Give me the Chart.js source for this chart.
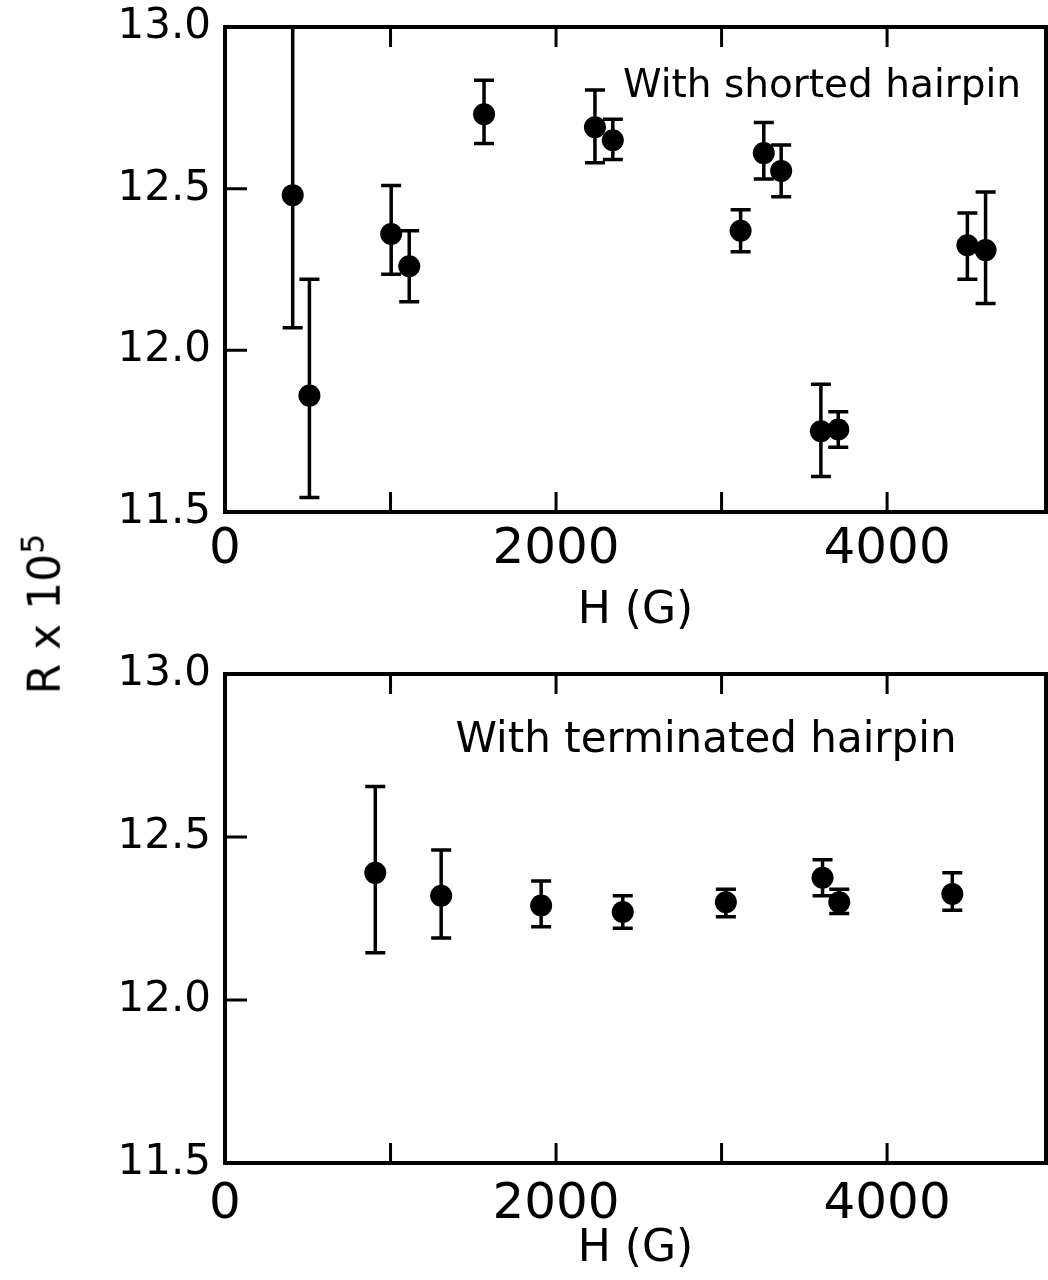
<!DOCTYPE html>
<html>
<head>
<meta charset="utf-8">
<script src="https://cdn.jsdelivr.net/npm/chart.js@4.4.0/dist/chart.umd.min.js"></script>
<style>
  body { margin: 0; background: #fff; }
  #wrap { position: relative; width: 1048px; height: 1280px; background: #fff; }
  canvas { position: absolute; left: 0; }
  #topChart { top: 0; }
  #botChart { top: 640px; }
  #ylab {
    position: absolute; left: 42px; top: 614px;
    transform: translate(-50%, -50%) rotate(-90deg);
    font: 44px "DejaVu Sans", sans-serif; color: #000; white-space: nowrap;
  }
  #ylab sup { font-size: 72%; }
</style>
</head>
<body>
<div id="wrap">
  <canvas id="topChart" width="1048" height="640"></canvas>
  <canvas id="botChart" width="1048" height="640"></canvas>
  <div id="ylab">R x 10<sup>5</sup></div>
</div>
<script>
// shorted hairpin (top panel)
var hTop = [409, 510, 1004, 1113, 1565, 2235, 2343, 3115, 3255, 3360, 3600, 3705, 4485, 4595];
var rTop = [12.48, 11.86, 12.36, 12.26, 12.73, 12.69, 12.65, 12.37, 12.61, 12.555, 11.75, 11.755, 12.325, 12.31];
var rTopHi = [13.0, 12.22, 12.51, 12.37, 12.835, 12.805, 12.715, 12.435, 12.705, 12.635, 11.895, 11.81, 12.425, 12.49];
var rTopLo = [12.07, 11.545, 12.235, 12.15, 12.64, 12.58, 12.59, 12.305, 12.53, 12.475, 11.61, 11.70, 12.22, 12.145];

// terminated hairpin (bottom panel)
var hBot = [908, 1306, 1910, 2403, 3026, 3610, 3711, 4394];
var rBot = [12.39, 12.32, 12.29, 12.27, 12.30, 12.375, 12.30, 12.325];
var rBotHi = [12.655, 12.46, 12.365, 12.32, 12.34, 12.43, 12.34, 12.39];
var rBotLo = [12.145, 12.19, 12.225, 12.22, 12.255, 12.32, 12.265, 12.275];

var yTicks = [11.5, 12.0, 12.5, 13.0];
var xTicks = [0, 1000, 2000, 3000, 4000];
var xLabels = [0, 2000, 4000];

var FONT = '"DejaVu Sans", sans-serif';

// error bars drawn under the dots
var errorBars = {
    id: 'errorBars',
    beforeDatasetsDraw: function(chart) {
        var ctx = chart.ctx, x = chart.scales.x, y = chart.scales.y;
        ctx.save();
        ctx.strokeStyle = '#000';
        ctx.lineWidth = 3.5;
        chart.data.datasets[0].data.forEach(function(p) {
            var px = x.getPixelForValue(p.x);
            var t = y.getPixelForValue(p.hi), b = y.getPixelForValue(p.lo);
            ctx.beginPath();
            ctx.moveTo(px, t); ctx.lineTo(px, b);
            ctx.moveTo(px - 10, t); ctx.lineTo(px + 10, t);
            ctx.moveTo(px - 10, b); ctx.lineTo(px + 10, b);
            ctx.stroke();
        });
        ctx.restore();
    }
};

// box frame, inward ticks and the label inside the plot
var frame = {
    id: 'frame',
    afterDraw: function(chart, args, opts) {
        var ctx = chart.ctx, a = chart.chartArea, x = chart.scales.x, y = chart.scales.y;
        ctx.save();
        ctx.strokeStyle = '#000';
        ctx.lineWidth = 4;
        ctx.strokeRect(a.left, a.top, a.right - a.left, a.bottom - a.top);
        ctx.lineWidth = 3;
        ctx.beginPath();
        xTicks.forEach(function(v) {
            if (v === 0) return;
            var px = x.getPixelForValue(v);
            ctx.moveTo(px, a.bottom); ctx.lineTo(px, a.bottom - 20);
            ctx.moveTo(px, a.top); ctx.lineTo(px, a.top + 20);
        });
        [12.0, 12.5].forEach(function(v) {
            var py = y.getPixelForValue(v);
            ctx.moveTo(a.left, py); ctx.lineTo(a.left + 22, py);
        });
        ctx.stroke();
        ctx.fillStyle = '#000';
        ctx.font = opts.size + 'px ' + FONT;
        ctx.textAlign = 'center';
        ctx.textBaseline = 'alphabetic';
        ctx.fillText(opts.text, opts.cx, opts.baseline);
        ctx.restore();
    }
};

function makeChart(id, hs, rs, his, los, cfg) {
    var pts = hs.map(function(h, i) {
        return { x: h, y: rs[i], hi: his[i], lo: los[i] };
    });
    return new Chart(document.getElementById(id).getContext('2d'), {
        type: 'scatter',
        data: {
            datasets: [{
                data: pts,
                pointRadius: 11,
                pointHoverRadius: 11,
                backgroundColor: '#000',
                borderWidth: 0
            }]
        },
        plugins: [errorBars, frame],
        options: {
            responsive: false,
            animation: false,
            layout: { autoPadding: false, padding: { top: cfg.top, right: 2, left: 0, bottom: 0 } },
            plugins: {
                legend: { display: false },
                tooltip: { enabled: false },
                frame: { text: cfg.text, cx: cfg.cx, baseline: cfg.baseline, size: cfg.size }
            },
            scales: {
                x: {
                    type: 'linear', min: 0, max: 4960,
                    grid: { display: false, drawTicks: false },
                    border: { display: false },
                    afterBuildTicks: function(s) { s.ticks = xTicks.map(function(v) { return { value: v }; }); },
                    ticks: {
                        autoSkip: false, maxRotation: 0,
                        color: '#000', padding: cfg.xpad,
                        font: { family: FONT, size: 50 },
                        callback: function(v) { return xLabels.indexOf(Number(v)) >= 0 ? String(v) : ''; }
                    },
                    title: {
                        display: true, text: 'H (G)', color: '#000',
                        font: { family: FONT, size: 44 },
                        padding: { top: 0, bottom: cfg.tpad }
                    },
                    afterFit: function(s) {
                        s.height = cfg.xh;
                        s.paddingLeft = 0; s.paddingRight = 0;
                    }
                },
                y: {
                    min: 11.5, max: 13.0,
                    grid: { display: false, drawTicks: false },
                    border: { display: false },
                    afterBuildTicks: function(s) { s.ticks = yTicks.map(function(v) { return { value: v }; }); },
                    ticks: {
                        autoSkip: false,
                        color: '#000', padding: 14,
                        font: { family: FONT, size: 42, lineHeight: 1 },
                        callback: function(v) { return Number(v).toFixed(1); }
                    },
                    afterFit: function(s) {
                        s.width = 225;
                        s.paddingTop = 0; s.paddingBottom = 0;
                    }
                }
            }
        }
    });
}

makeChart('topChart', hTop, rTop, rTopHi, rTopLo,
    { top: 27, xh: 128, xpad: 8, tpad: 2, text: 'With shorted hairpin', cx: 822, baseline: 97, size: 39 });
makeChart('botChart', hBot, rBot, rBotHi, rBotLo,
    { top: 34, xh: 117, xpad: 12, tpad: 4, text: 'With terminated hairpin', cx: 706, baseline: 112, size: 42 });
</script>
</body>
</html>
